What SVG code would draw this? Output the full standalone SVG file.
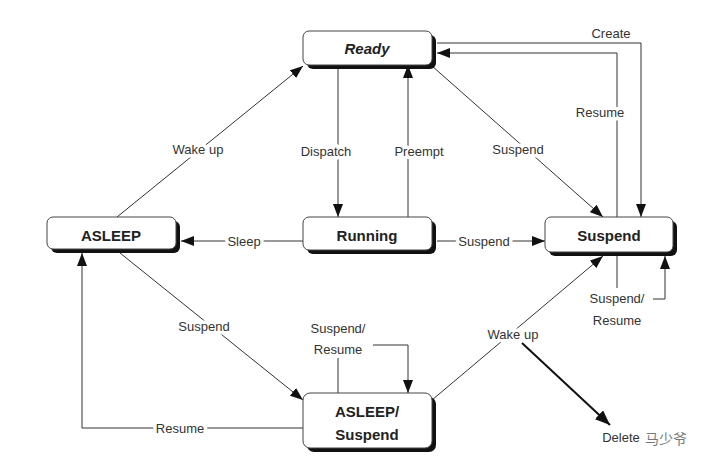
<svg xmlns="http://www.w3.org/2000/svg" width="713" height="470" viewBox="0 0 713 470">
<style>
.shadow{fill:#111}
.box{fill:#fff;stroke:#444;stroke-width:1}
.nt{font-family:"Liberation Sans",Arial,sans-serif;font-weight:bold;font-size:15px;fill:#222;text-anchor:middle;dominant-baseline:central}
.ln{fill:none;stroke:#333;stroke-width:1}
.lb{font-family:"Liberation Sans",Arial,sans-serif;font-size:13px;fill:#333;text-anchor:middle;dominant-baseline:central;stroke:#fff;stroke-width:7;paint-order:stroke;stroke-linejoin:round}
.lb2{font-family:"Liberation Sans",Arial,sans-serif;font-size:13px;fill:#333;text-anchor:middle;dominant-baseline:central}
</style>
<defs>
<marker id="ah" viewBox="0 0 13 10" refX="13" refY="5" markerWidth="13" markerHeight="10" markerUnits="userSpaceOnUse" orient="auto">
<path d="M0,0 L13,5 L0,10 z" fill="#111"/>
</marker>
<marker id="ahb" viewBox="0 0 15 12" refX="15" refY="6" markerWidth="15" markerHeight="12" markerUnits="userSpaceOnUse" orient="auto">
<path d="M0,0 L15,6 L0,12 z" fill="#111"/>
</marker>
</defs>
<rect width="713" height="470" fill="#fff"/>
<g id="connectors">
<line class="ln" x1="338" y1="65" x2="338" y2="217" marker-end="url(#ah)"/>
<line class="ln" x1="408" y1="217" x2="408" y2="65" marker-end="url(#ah)"/>
<line class="ln" x1="117" y1="217" x2="303" y2="66" marker-end="url(#ah)"/>
<line class="ln" x1="432" y1="66" x2="603" y2="217" marker-end="url(#ah)"/>
<polyline class="ln" points="617,217 617,53 437,53" marker-end="url(#ah)"/>
<polyline class="ln" points="437,43 641,43 641,217" marker-end="url(#ah)"/>
<line class="ln" x1="437" y1="241" x2="545" y2="241" marker-end="url(#ah)"/>
<line class="ln" x1="303" y1="241" x2="181" y2="241" marker-end="url(#ah)"/>
<line class="ln" x1="617" y1="256" x2="617" y2="288"/>
<polyline class="ln" points="653,299 665,299 665,256" marker-end="url(#ah)"/>
<line class="ln" x1="120" y1="253" x2="303" y2="400" marker-end="url(#ah)"/>
<polyline class="ln" points="303,428 82,428 82,253" marker-end="url(#ah)"/>
<line class="ln" x1="338" y1="393" x2="338" y2="358"/>
<polyline class="ln" points="373,345 408,345 408,393" marker-end="url(#ah)"/>
<line class="ln" x1="432" y1="400" x2="603" y2="256" marker-end="url(#ah)"/>
<line x1="522" y1="343" x2="610" y2="425" stroke="#111" stroke-width="2" marker-end="url(#ahb)"/>
<text class="lb" x="326" y="151">Dispatch</text>
<text class="lb" x="419" y="151">Preempt</text>
<text class="lb" x="198" y="149">Wake up</text>
<text class="lb" x="518" y="149">Suspend</text>
<text class="lb" x="611" y="33">Create</text>
<text class="lb" x="600" y="112">Resume</text>
<text class="lb" x="484" y="241">Suspend</text>
<text class="lb" x="244" y="241">Sleep</text>
<text class="lb2" x="617" y="298">Suspend/</text>
<text class="lb2" x="617" y="320">Resume</text>
<text class="lb" x="204" y="326">Suspend</text>
<text class="lb" x="180" y="428">Resume</text>
<text class="lb2" x="338" y="328">Suspend/</text>
<text class="lb2" x="338" y="349">Resume</text>
<text class="lb" x="513" y="334">Wake up</text>
<text class="lb2" x="621" y="437">Delete</text>
<text x="666" y="438" font-family="'Noto Sans CJK SC',sans-serif" font-size="14" fill="#777" text-anchor="middle" dominant-baseline="central">马少爷</text>
</g>
<g id="ready">
<rect class="shadow" x="307" y="35" width="129" height="34" rx="6"/>
<rect class="box" x="303" y="31" width="129" height="34" rx="6"/>
<text class="nt" x="367" y="48" font-style="italic" font-size="17">Ready</text>
</g>
<g id="running">
<rect class="shadow" x="307" y="221" width="129" height="33" rx="6"/>
<rect class="box" x="303" y="217" width="129" height="33" rx="6"/>
<text class="nt" x="367" y="235">Running</text>
</g>
<g id="asleep">
<rect class="shadow" x="51" y="221" width="129" height="32" rx="6"/>
<rect class="box" x="47" y="217" width="129" height="32" rx="6"/>
<text class="nt" x="111" y="235">ASLEEP</text>
</g>
<g id="suspend">
<rect class="shadow" x="549" y="221" width="128" height="35" rx="6"/>
<rect class="box" x="545" y="217" width="128" height="35" rx="6"/>
<text class="nt" x="609" y="235">Suspend</text>
</g>
<g id="asleep-suspend">
<rect class="shadow" x="307" y="397" width="129" height="55" rx="7"/>
<rect class="box" x="303" y="393" width="129" height="55" rx="7"/>
<text class="nt" x="367" y="411">ASLEEP/</text>
<text class="nt" x="367" y="434">Suspend</text>
</g>
</svg>
